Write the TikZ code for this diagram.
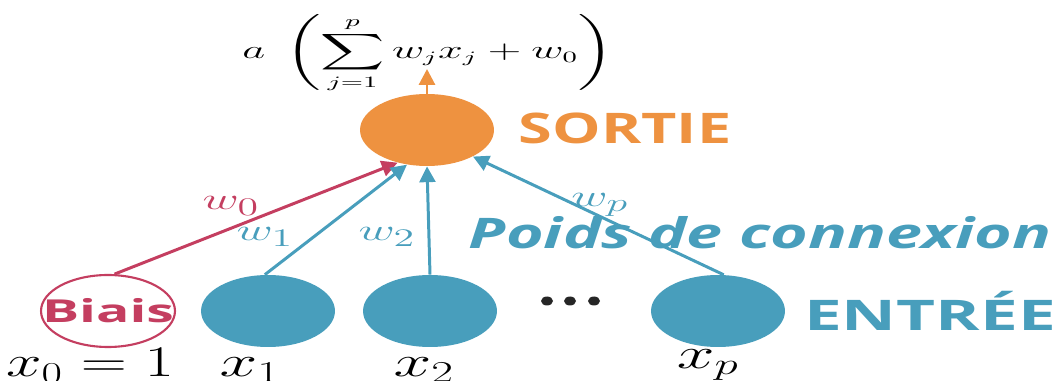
\documentclass[tikz,border=0pt]{standalone}
\usepackage{amsmath}
\usepackage{graphicx}
\usepackage{fontspec}
\setsansfont{Open Sans}
\usetikzlibrary{shapes.geometric,arrows.meta}
\definecolor{orng}{RGB}{238,146,64}
\definecolor{teal}{RGB}{72,158,188}
\definecolor{crim}{RGB}{196,62,96}
\newcommand{\hstretch}[2]{\scalebox{#1}[1]{#2}}
\tikzset{
  neuron/.style={ellipse,minimum width=2.68cm,minimum height=1.44cm,inner sep=0pt},
  conn/.style={line width=1.7pt,-{Triangle[length=9pt,width=9pt]}},
  bigword/.style={font=\sffamily\bfseries\fontsize{24}{28}\selectfont},
  mathlbl/.style={font=\fontsize{24}{28}\selectfont},
  wlbl/.style={font=\fontsize{19}{22}\selectfont},
}
\begin{document}
\begin{tikzpicture}[x=0.02cm,y=-0.02cm]
\useasboundingbox (0,0) rectangle (1061,381);
% nodes
\node[neuron,fill=orng] (out) at (427,130) {};
\node[bigword,text=orng] (sortie) at (625,128) {\hstretch{1.45}{SORTIE}};
\node[neuron,draw=crim,line width=1.2pt,fill=white] (b) at (108,311) {};
\node[font=\sffamily\bfseries\fontsize{18}{21}\selectfont,text=crim,inner sep=0pt] (btxt) at (b.center) {\hstretch{1.75}{Biais}};
\node[neuron,fill=teal] (x1) at (268,311) {};
\node[neuron,fill=teal] (x2) at (430,311) {};
\node[neuron,fill=teal] (xp) at (718,311) {};
\node[bigword,text=teal] (entree) at (930,311) {\hstretch{1.6}{ENTRÉE}};
\node[font=\sffamily\bfseries\itshape\fontsize{24}{28}\selectfont,text=teal] (poids) at (760,233) {\hstretch{1.53}{Poids de connexion}};
% dots
\foreach \i/\xx in {1/547,2/570,3/594}
  \fill[black!85] (\xx,301) ellipse [x radius=6, y radius=4.5];
% formula
\coordinate (top) at (427,69);
\node[font=\fontsize{13.5}{16}\selectfont] (f) at (428,54) {\hstretch{1.76}{$\displaystyle a\;\left(\sum_{j=1}^{p} w_j x_j + w_0\right)$}};
% connectors
\draw[conn,crim] (b.80) -- (out.228);
\draw[conn,teal] (x1.95) -- (out.240);
\draw[conn,teal] (x2.90) -- (out.270);
\draw[conn,teal] (xp.81) -- (out.330);
\draw[conn,orng] (out.north) -- (top);
% weight labels
\node[wlbl,text=crim] (w0) at (231,206) {\hstretch{1.65}{$w_0$}};
\node[wlbl,text=teal] (w1) at (265,237) {\hstretch{1.65}{$w_1$}};
\node[wlbl,text=teal] (w2) at (387,237) {\hstretch{1.65}{$w_2$}};
\node[wlbl,text=teal] (wp) at (600,205) {\hstretch{1.65}{$w_p$}};
% input labels
\node[mathlbl] (l0) at (90,366) {\hstretch{1.46}{$x_0 = 1$}};
\node[mathlbl] (l1) at (250,370) {\hstretch{1.55}{$x_1$}};
\node[mathlbl] (l2) at (424,370) {\hstretch{1.55}{$x_2$}};
\node[mathlbl] (lp) at (708,365) {\hstretch{1.55}{$x_p$}};
\end{tikzpicture}
\end{document}
